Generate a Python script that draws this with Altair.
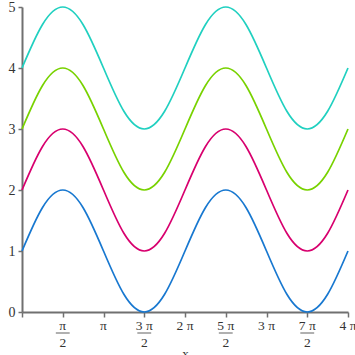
import altair as alt
import pandas as pd

# x positions in units of pi (steps of pi/4)
x_pi = [0, 0.25, 0.5, 0.75, 1, 1.25, 1.5, 1.75, 2, 2.25, 2.5, 2.75, 3, 3.25, 3.5, 3.75, 4]
y1 = [1, 1.71, 2, 1.71, 1, 0.29, 0, 0.29, 1, 1.71, 2, 1.71, 1, 0.29, 0, 0.29, 1]
y2 = [2, 2.71, 3, 2.71, 2, 1.29, 1, 1.29, 2, 2.71, 3, 2.71, 2, 1.29, 1, 1.29, 2]
y3 = [3, 3.71, 4, 3.71, 3, 2.29, 2, 2.29, 3, 3.71, 4, 3.71, 3, 2.29, 2, 2.29, 3]
y4 = [4, 4.71, 5, 4.71, 4, 3.29, 3, 3.29, 4, 4.71, 5, 4.71, 4, 3.29, 3, 3.29, 4]
series_names = ["s1", "s2", "s3", "s4"]
series_colors = ["#1878D0", "#D8006E", "#78D200", "#20D0C0"]

tick_pos = [0.5, 1, 1.5, 2, 2.5, 3, 3.5, 4]
tick_num = ["π", "π", "3 π", "2 π", "5 π", "3 π", "7 π", "4 π"]
tick_den = ["2", "", "2", "", "2", "", "2", ""]

x_minor = [i / 8 for i in range(33)]
y_minor = [i / 2 for i in range(11)]

rows = []
for name, ys in zip(series_names, [y1, y2, y3, y4]):
    for xv, yv in zip(x_pi, ys):
        rows.append({"x": xv, "y": yv, "s": name})
df = pd.DataFrame(rows)

lab = pd.DataFrame({"x": tick_pos, "num": tick_num, "den": tick_den})
frac = lab[lab["den"] != ""]

W, H = 326, 305
FONT = "Liberation Serif"
AX = "#707070"

xscale = alt.Scale(domain=[0, 4], nice=False, zero=False)
yscale = alt.Scale(domain=[0, 5], nice=False)

lines = alt.Chart(df).mark_line(strokeWidth=1.7, interpolate="natural").encode(
    x=alt.X("x:Q", scale=xscale,
            axis=alt.Axis(values=x_minor, labels=False, grid=False,
                          domainColor=AX, domainWidth=2, tickColor=AX, tickWidth=1.5,
                          tickSize={"condition": {"test": "datum.value % 0.5 === 0", "value": 5}, "value": 3},
                          title="x", titleFont=FONT, titleFontSize=13, titleFontWeight="normal",
                          titleColor="#333", titlePadding=30)),
    y=alt.Y("y:Q", scale=yscale,
            axis=alt.Axis(values=y_minor, grid=False, title=None, format="d",
                          domainColor=AX, domainWidth=2, tickColor=AX, tickWidth=1.5,
                          tickSize={"condition": {"test": "datum.value % 1 === 0", "value": 4}, "value": 2},
                          labelExpr="datum.value % 1 === 0 ? datum.label : ''",
                          labelFont=FONT, labelFontSize=14, labelColor="#333", labelPadding=3)),
    color=alt.Color("s:N", scale=alt.Scale(domain=series_names, range=series_colors), legend=None),
)

num_text = alt.Chart(lab).mark_text(font=FONT, fontSize=13.5, color="#333", baseline="middle").encode(
    x=alt.X("x:Q", scale=xscale),
    y=alt.value(H + 14),
    text="num:N",
)
den_text = alt.Chart(frac).mark_text(font=FONT, fontSize=13.5, color="#333", baseline="middle").encode(
    x=alt.X("x:Q", scale=xscale),
    y=alt.value(H + 31),
    text="den:N",
)
bars = alt.Chart(frac).transform_calculate(
    xa="datum.x - 0.085", xb="datum.x + 0.085"
).mark_rule(color="#B0B0B0", strokeWidth=2).encode(
    x=alt.X("xa:Q", scale=xscale),
    x2="xb:Q",
    y=alt.value(H + 21),
)

chart = alt.layer(lines, num_text, den_text, bars).properties(
    width=W, height=H,
    autosize=alt.AutoSizeParams(type="none"),
    padding={"left": 22, "top": 7, "right": 7, "bottom": 43},
).configure_view(stroke=None)

chart.save("out.html", embed_options={"renderer": "svg", "actions": False})
